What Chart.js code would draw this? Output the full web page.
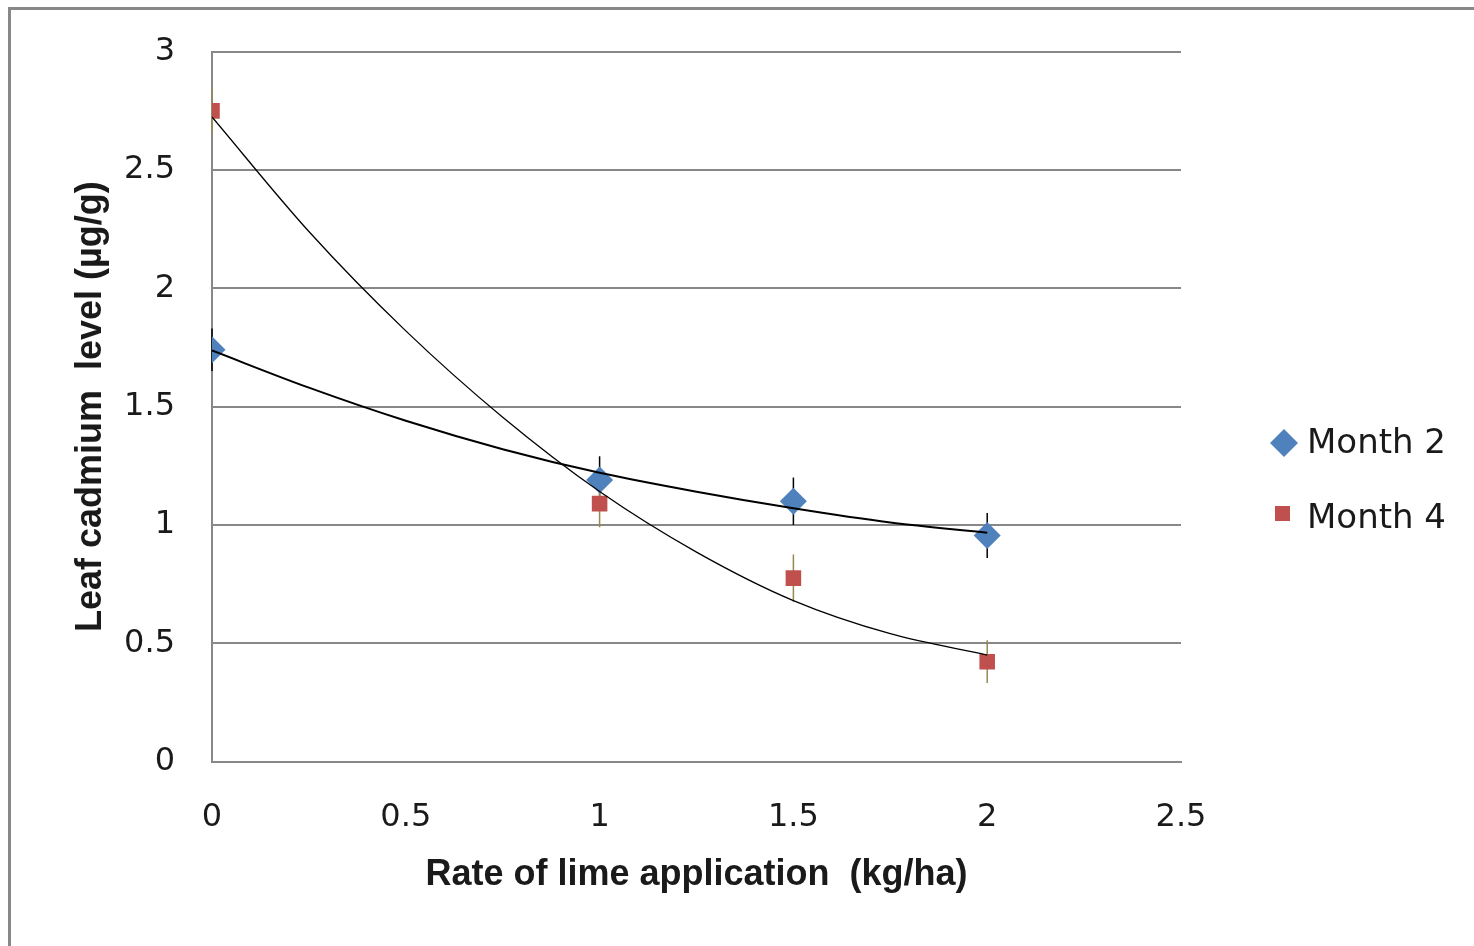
<!DOCTYPE html>
<html>
<head>
<meta charset="utf-8">
<script src="https://cdn.jsdelivr.net/npm/chart.js@4.4.1/dist/chart.umd.min.js"></script>
<style>
  html, body { margin: 0; padding: 0; background: #fff; overflow: hidden; }
  #wrap { position: relative; width: 1474px; height: 946px; }
  #frame { position: absolute; left: 8px; top: 7px; width: 1500px; height: 1000px; border: 3px solid #888; box-sizing: border-box; }
  canvas { position: absolute; left: 0; top: 0; }
</style>
</head>
<body>
<div id="wrap">
  <div id="frame"></div>
  <canvas id="chart" width="1474" height="946"></canvas>
</div>
<script>
// datos
var rates = [0, 1, 1.5, 2];
var month2 = [1.74, 1.19, 1.10, 0.955];
var month2Err = [0.09, 0.1, 0.1, 0.095];
var month4 = [2.75, 1.09, 0.775, 0.422];
var month4Err = [0.095, 0.1, 0.1, 0.09];

// lineas de tendencia
var trendX = [0, 0.25, 0.5, 0.75, 1, 1.25, 1.5, 1.75, 2];
var trend2 = [1.737, 1.58, 1.44, 1.32, 1.22, 1.14, 1.07, 1.01, 0.967];
var trend4 = [2.724, 2.24, 1.82, 1.455, 1.141, 0.885, 0.68, 0.54, 0.45];

var seriesLabels = ['Month 2', 'Month 4'];
var xTitle = 'Rate of lime application  (kg/ha)';
var yTitle = 'Leaf cadmium  level (\u00b5g/g)';

function pares(xs, ys) {
  return xs.map(function (x, i) { return { x: x, y: ys[i] }; });
}

// etiquetas sin decimales sobrantes (3, 2.5, 2 ...)
function etiqueta(value) {
  return String(Math.round(value * 10) / 10);
}

// barras de error (solo verticales)
var errorBars = {
  id: 'errorBars',
  beforeDatasetsDraw: function (chart) {
    var ctx = chart.ctx;
    var xs = chart.scales.x, ys = chart.scales.y;
    chart.data.datasets.forEach(function (ds) {
      if (!ds.errores) return;
      ctx.save();
      ctx.strokeStyle = ds.errorColor;
      ctx.lineWidth = 1.5;
      ds.data.forEach(function (p, i) {
        var px = xs.getPixelForValue(p.x);
        ctx.beginPath();
        ctx.moveTo(px, ys.getPixelForValue(p.y + ds.errores[i]));
        ctx.lineTo(px, ys.getPixelForValue(p.y - ds.errores[i]));
        ctx.stroke();
      });
      ctx.restore();
    });
  }
};

// leyenda a la derecha
var leyenda = {
  id: 'leyenda',
  afterDraw: function (chart) {
    var ctx = chart.ctx;
    ctx.save();
    ctx.font = '34px "DejaVu Sans"';
    ctx.textBaseline = 'middle';
    // Month 2
    ctx.fillStyle = '#4f81bd';
    ctx.beginPath();
    ctx.moveTo(1270, 443); ctx.lineTo(1284, 429); ctx.lineTo(1298, 443); ctx.lineTo(1284, 457);
    ctx.closePath(); ctx.fill();
    ctx.fillStyle = '#1a1a1a';
    ctx.fillText(seriesLabels[0], 1307, 444);
    // Month 4
    ctx.fillStyle = '#c0504d';
    ctx.fillRect(1275, 506, 15, 15);
    ctx.fillStyle = '#1a1a1a';
    ctx.fillText(seriesLabels[1], 1307, 519);
    ctx.restore();
  }
};

var ctx = document.getElementById('chart').getContext('2d');
var grafico = new Chart(ctx, {
  type: 'scatter',
  data: {
    datasets: [
      {
        label: 'trend ' + seriesLabels[0],
        type: 'line',
        data: pares(trendX, trend2),
        borderColor: '#000',
        borderWidth: 2,
        pointRadius: 0,
        fill: false,
        cubicInterpolationMode: 'monotone',
        order: 0
      },
      {
        label: 'trend ' + seriesLabels[1],
        type: 'line',
        data: pares(trendX, trend4),
        borderColor: '#000',
        borderWidth: 1.3,
        pointRadius: 0,
        fill: false,
        cubicInterpolationMode: 'monotone',
        order: 1
      },
      {
        label: seriesLabels[0],
        data: pares(rates, month2),
        errores: month2Err,
        errorColor: '#000',
        pointStyle: 'rectRot',
        pointRadius: 13.5,
        backgroundColor: '#4f81bd',
        borderColor: '#4f81bd',
        borderWidth: 0,
        order: 2
      },
      {
        label: seriesLabels[1],
        data: pares(rates, month4),
        errores: month4Err,
        errorColor: '#948a54',
        pointStyle: 'rect',
        pointRadius: 11,
        backgroundColor: '#c0504d',
        borderColor: '#c0504d',
        borderWidth: 0,
        order: 3
      }
    ]
  },
  options: {
    responsive: false,
    animation: false,
    devicePixelRatio: 1,
    layout: { autoPadding: false, padding: { left: 0, top: 51.7, right: 293, bottom: 0 } },
    plugins: { legend: { display: false }, tooltip: { enabled: false } },
    scales: {
      x: {
        type: 'linear',
        min: 0,
        max: 2.5,
        afterFit: function (scale) { scale.height = 184.5; },
        ticks: { stepSize: 0.5, padding: 37, color: '#1a1a1a', font: { family: 'DejaVu Sans', size: 32 }, callback: etiqueta },
        grid: { display: false, drawTicks: false },
        border: { display: true, color: '#888', width: 2 },
        title: {
          display: true,
          text: xTitle,
          color: '#1a1a1a',
          font: { family: 'Liberation Sans', size: 36, weight: 'bold' },
          padding: { top: 0, bottom: 49 }
        }
      },
      y: {
        min: 0,
        max: 3,
        afterFit: function (scale) {
          scale.width = 212;
          // el padding de las etiquetas no debe empujar el area del grafico
          scale.paddingTop = 0;
          scale.paddingBottom = 0;
        },
        ticks: { stepSize: 0.5, padding: 37, color: '#1a1a1a', font: { family: 'DejaVu Sans', size: 32 }, callback: etiqueta },
        grid: { color: '#888', lineWidth: 2, drawTicks: false },
        border: { display: true, color: '#888', width: 2 },
        title: {
          display: true,
          text: yTitle,
          color: '#1a1a1a',
          font: { family: 'Liberation Sans', size: 36, weight: 'bold' },
          padding: { top: 69, bottom: 0 }
        }
      }
    }
  },
  plugins: [errorBars, leyenda]
});
</script>
</body>
</html>
